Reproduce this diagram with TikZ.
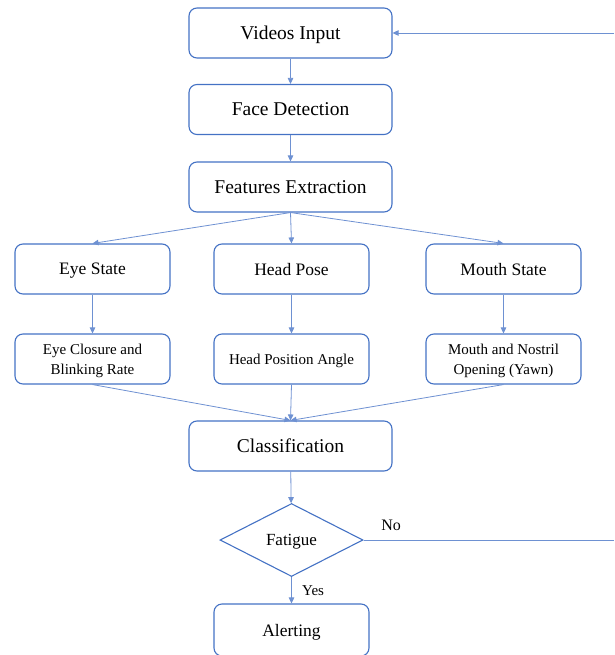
\documentclass[tikz,border=0pt]{standalone}
\usepackage{fontspec}
\setmainfont{Liberation Serif}
\usepackage{xcolor}
\usepackage{tikz}
\usetikzlibrary{arrows.meta,shapes.geometric,positioning}

\definecolor{boxblue}{RGB}{68,114,196}
\definecolor{lineblue}{RGB}{110,145,210}

\begin{document}
\begin{tikzpicture}[x=1pt,y=-1pt,>={Triangle[length=6pt,width=5.5pt]},
	big/.style={draw=boxblue,line width=1.1pt,rounded corners=8pt,minimum width=203pt,minimum height=50pt,text depth=0pt,font=\fontsize{19.5}{23}\selectfont},
	mid/.style={draw=boxblue,line width=1.1pt,rounded corners=8pt,minimum width=155pt,minimum height=50pt,text depth=0pt,font=\fontsize{17.5}{21}\selectfont},
	small/.style={mid,align=center,font=\fontsize{15}{20}\selectfont},
	decision/.style={diamond,draw=boxblue,line width=1.1pt,aspect=2,inner sep=0pt,minimum width=143pt,minimum height=73pt,text depth=0pt,font=\fontsize{17}{20}\selectfont},
	link/.style={->,color=lineblue,line width=0.8pt}]
	\useasboundingbox (0,0) rectangle (614,655);

	\node [big] at (290.5,33) (vin) {Videos Input};
	\node [big] at (290.5,109.5) (fd) {Face Detection};
	\node [big] at (290.5,187) (fe) {Features Extraction};
	\node [mid] at (92.5,269) (eye) {Eye State};
	\node [mid] at (291.5,269) (head) {Head Pose};
	\node [mid] at (503.5,269) (mouth) {Mouth State};
	\node [small] at (92.5,359) (blink) {Eye Closure and\\Blinking Rate};
	\node [small] at (291.5,359) (angle) {Head Position Angle};
	\node [small] at (503.5,359) (yawn) {Mouth and Nostril\\Opening (Yawn)};
	\node [big] at (290.5,446) (cls) {Classification};
	\node [decision] at (291.5,540) (fat) {Fatigue};
	\node [mid,minimum height=52pt] at (291.5,630) (alert) {Alerting};
	\coordinate (rin) at (614,33);
	\coordinate (rno) at (614,540);

	\path[link]
	(vin) edge (fd)
	(fd) edge (fe)
	(fe.south) edge (eye.north)
	(fe.south) edge (head.north)
	(fe.south) edge (mouth.north)
	(eye) edge (blink)
	(head) edge (angle)
	(mouth) edge (yawn)
	(blink.south) edge (cls.north)
	(angle.south) edge (cls.north)
	(yawn.south) edge (cls.north)
	(cls) edge (fat)
	(fat) edge node[right=7pt,font=\fontsize{15}{18}\selectfont,text=black] {Yes} (alert)
	(rin) edge (vin);
	\draw[draw=lineblue,line width=0.8pt] (fat.east) -- node[pos=0.11,above=6pt,font=\fontsize{16}{18}\selectfont] {No} (rno);
\end{tikzpicture}
\end{document}
